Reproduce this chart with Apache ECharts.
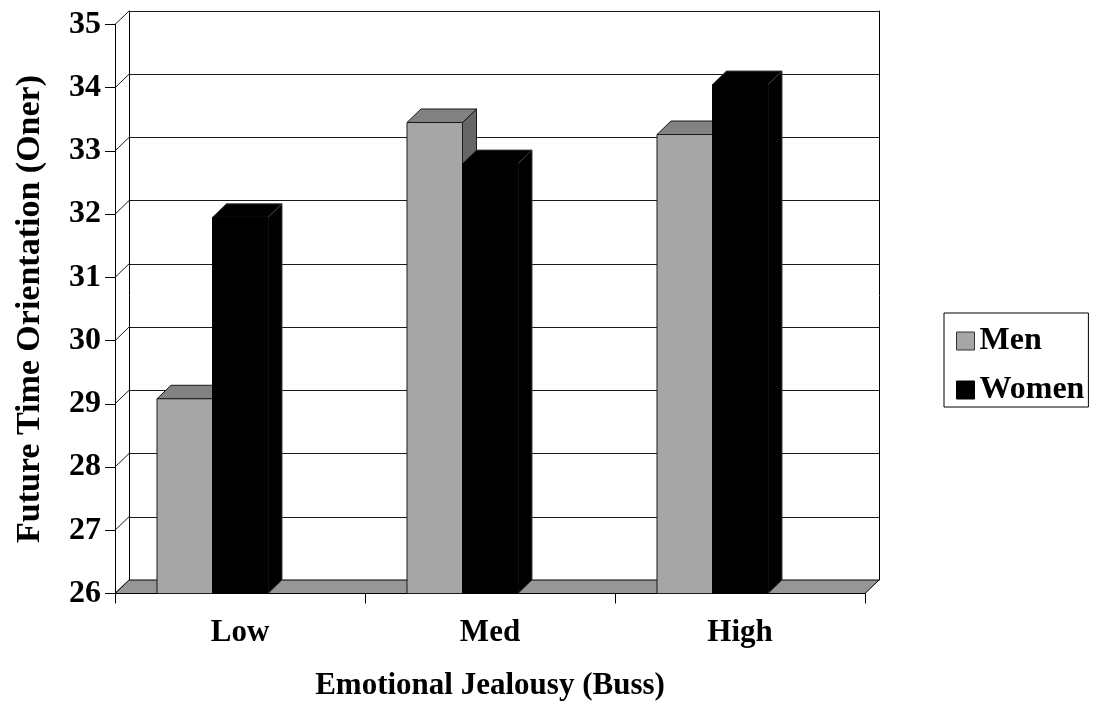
<!DOCTYPE html>
<html>
<head>
<meta charset="utf-8">
<script src="https://cdn.jsdelivr.net/npm/echarts@6/dist/echarts.min.js"></script>
<style>
html,body{margin:0;padding:0;background:#fff;}
#chart{width:1102px;height:709px;}
</style>
</head>
<body>
<div id="chart"></div>
<script>
// ---- data ----
const categories = ['Low', 'Med', 'High'];
const seriesNames = ['Men', 'Women'];
const menValues = [29.08, 33.45, 33.26];
const womenValues = [31.95, 32.80, 34.05];
const yTicks = [26, 27, 28, 29, 30, 31, 32, 33, 34, 35];
const xTitle = 'Emotional Jealousy (Buss)';
const yTitle = 'Future Time Orientation (Oner)';

// ---- style / layout ----
const FONT = "'Times New Roman', 'Liberation Serif', serif";
const DX = 14, DY = 13.5;           // oblique depth offset
const BAR_W = 0.222;                // bar width as fraction of category band
const BAR_OFF = [-0.332, -0.110];   // left edge of front face relative to band centre
const STYLES = [
  {front: '#a6a6a6', top: '#828282', side: '#666666', stroke: '#1a1a1a'},
  {front: '#000000', top: '#000000', side: '#000000', stroke: '#3a3a3a'}
];

const chart = echarts.init(document.getElementById('chart'), null, {renderer: 'canvas'});

function barRenderer(si) {
  return function (params, api) {
    const cat = api.value(0), v = api.value(1);
    const pt = api.coord([cat, v]);
    const pb = api.coord([cat, yTicks[0]]);
    const bw = api.size([1, 0])[0];
    const x0 = pt[0] + BAR_OFF[si] * bw;
    const w = BAR_W * bw;
    const yt = pt[1], yb = pb[1];
    const s = STYLES[si];
    return {
      type: 'group',
      children: [
        {type: 'polygon', shape: {points: [[x0 + w, yt], [x0 + w + DX, yt - DY], [x0 + w + DX, yb - DY], [x0 + w, yb]]},
          style: {fill: s.side, stroke: s.stroke, lineWidth: 1}},
        {type: 'polygon', shape: {points: [[x0, yt], [x0 + w, yt], [x0 + w + DX, yt - DY], [x0 + DX, yt - DY]]},
          style: {fill: s.top, stroke: s.stroke, lineWidth: 1}},
        {type: 'rect', shape: {x: x0, y: yt, width: w, height: yb - yt},
          style: {fill: s.front, stroke: si === 0 ? '#1a1a1a' : '#000', lineWidth: 1}}
      ]
    };
  };
}

const option = {
  backgroundColor: '#fff',
  animation: false,
  textStyle: {fontFamily: FONT},
  grid: [
    {left: 115, right: 237, top: 24.5, bottom: 115.5},
    {left: 129, right: 223, top: 11, bottom: 129}
  ],
  xAxis: [
    {
      type: 'category', gridIndex: 0, data: categories,
      axisLine: {lineStyle: {color: '#000', width: 1}},
      axisTick: {show: true, length: 10, lineStyle: {color: '#000'}},
      axisLabel: {color: '#000', fontSize: 31, fontWeight: 'bold', fontFamily: FONT, margin: 24},
      name: xTitle, nameLocation: 'middle', nameGap: 77,
      nameTextStyle: {color: '#000', fontSize: 31, fontWeight: 'bold', fontFamily: FONT},
      splitLine: {show: false}
    },
    {type: 'category', gridIndex: 1, data: categories, show: false}
  ],
  yAxis: [
    {
      type: 'value', gridIndex: 0, min: 26, max: 35, interval: 1,
      axisLine: {show: true, lineStyle: {color: '#000', width: 1}},
      axisTick: {show: true, length: 10, lineStyle: {color: '#000'}},
      axisLabel: {color: '#000', fontSize: 32, fontWeight: 'bold', fontFamily: FONT, margin: 14},
      splitLine: {show: false},
      name: yTitle, nameLocation: 'middle', nameGap: 68, nameRotate: 90,
      nameTextStyle: {color: '#000', fontSize: 34, fontWeight: 'bold', fontFamily: FONT}
    },
    {
      type: 'value', gridIndex: 1, min: 26, max: 35, interval: 1,
      axisLine: {show: true, lineStyle: {color: '#000', width: 1}},
      axisTick: {show: false}, axisLabel: {show: false},
      splitLine: {show: true, lineStyle: {color: '#1a1a1a', width: 1}}
    },
    {
      type: 'value', gridIndex: 1, min: 26, max: 35, interval: 1, position: 'right',
      axisLine: {show: true, lineStyle: {color: '#000', width: 1}},
      axisTick: {show: false}, axisLabel: {show: false}, splitLine: {show: false}
    }
  ],
  legend: {
    orient: 'vertical', left: 944, top: 313,
    padding: [12, 4, 1, 12],
    itemWidth: 18, itemHeight: 18, itemGap: 17, itemTextGap: 16,
    borderColor: '#000', borderWidth: 1,
    icon: 'rect',
    textStyle: {color: '#000', fontSize: 32, fontWeight: 'bold', fontFamily: FONT, lineHeight: 32},
    data: [
      {name: 'Men', itemStyle: {color: STYLES[0].front, borderColor: '#333', borderWidth: 1}},
      {name: 'Women', itemStyle: {color: '#000', borderColor: '#000', borderWidth: 1}}
    ]
  },
  series: [
    {
      type: 'custom', name: 'floor', xAxisIndex: 0, yAxisIndex: 0, silent: true, z: 1,
      data: [[0, yTicks[0]]],
      renderItem: function (params, api) {
        const cs = params.coordSys;
        const yb = api.coord([0, yTicks[0]])[1];
        const xl = cs.x, xr = cs.x + cs.width;
        return {type: 'polygon', shape: {points: [[xl, yb], [xr, yb], [xr + DX, yb - DY], [xl + DX, yb - DY]]},
          style: {fill: '#969696', stroke: '#000', lineWidth: 1}};
      }
    },
    {
      type: 'custom', name: 'sidewall', xAxisIndex: 0, yAxisIndex: 0, silent: true, z: 1,
      data: yTicks.map(v => [0, v]),
      renderItem: function (params, api) {
        const cs = params.coordSys;
        const y = api.coord([0, api.value(1)])[1];
        return {type: 'line', shape: {x1: cs.x, y1: y, x2: cs.x + DX, y2: y - DY},
          style: {stroke: '#1a1a1a', lineWidth: 1}};
      }
    },
    {
      type: 'custom', name: seriesNames[0], xAxisIndex: 0, yAxisIndex: 0, z: 3,
      itemStyle: {color: STYLES[0].front},
      data: menValues.map((v, i) => [i, v]),
      renderItem: barRenderer(0)
    },
    {
      type: 'custom', name: seriesNames[1], xAxisIndex: 0, yAxisIndex: 0, z: 4,
      itemStyle: {color: '#000'},
      data: womenValues.map((v, i) => [i, v]),
      renderItem: barRenderer(1)
    }
  ]
};
chart.setOption(option);
</script>
</body>
</html>
